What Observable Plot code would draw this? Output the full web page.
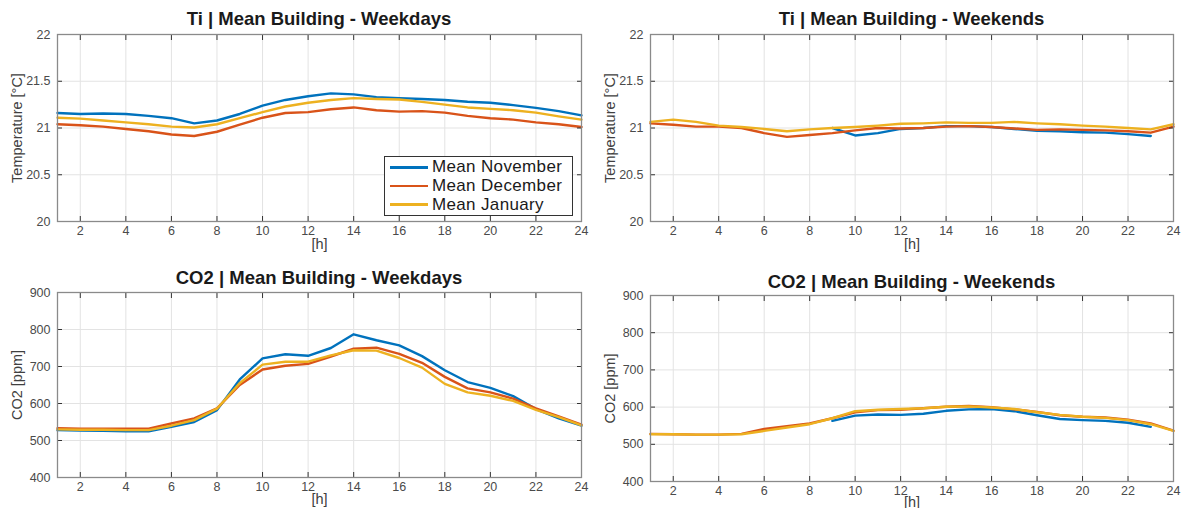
<!DOCTYPE html>
<html>
<head>
<meta charset="utf-8">
<script src="https://cdn.jsdelivr.net/npm/d3@7"></script>
<script src="https://cdn.jsdelivr.net/npm/@observablehq/plot@0.6"></script>
<style>
  html, body { margin: 0; padding: 0; background: #fff; }
  #root { position: relative; width: 1181px; height: 508px; overflow: hidden; background: #fff;
          font-family: "Liberation Sans", Arial, Helvetica, sans-serif; }
  .panel { position: absolute; }
  .title { position: absolute; font-weight: bold; font-size: 18.5px; color: #1a1a1a; white-space: nowrap;
           transform: translateX(-50%); line-height: 1; }
  .legend { position: absolute; border: 1px solid #333; background: #fff; box-sizing: border-box; padding: 1px 0 0 5px; }
  .legend .row { display: flex; align-items: center; height: 18.7px; white-space: nowrap; }
  .legend .row span { display: inline-block; font-size: 17px; line-height: 18px; height: 18px; color: #1a1a1a;
                      letter-spacing: 0.35px; }
  .legend .sw { width: 38px; height: 2.6px; margin-right: 4px; }
  g[aria-label="y-axis label"] text, g[aria-label="x-axis label"] text { font-size: 14.5px; fill: #404040; }
  g[aria-label="y-axis label"], g[aria-label="x-axis label"] { font-size: 14.5px; }
  g[aria-label="x-axis tick label"], g[aria-label="y-axis tick label"] { font-size: 12.5px; fill: #4a4a4a; }
</style>
</head>
<body>
<div id="root"></div>
<script>
// ---------- data ----------
const hours = [1,2,3,4,5,6,7,8,9,10,11,12,13,14,15,16,17,18,19,20,21,22,23,24];
const seriesNames = ["Mean November", "Mean December", "Mean January"];
const seriesColors = ["#0072BD", "#D95319", "#EDB120"];
const xTicks = [2,4,6,8,10,12,14,16,18,20,22,24];
const tiTicks = [20, 20.5, 21, 21.5, 22];
const co2Ticks = [400, 500, 600, 700, 800, 900];

// Ti | Weekdays
const tiWdNov = [21.16,21.15,21.155,21.15,21.13,21.105,21.05,21.08,21.15,21.24,21.30,21.34,21.37,21.36,21.33,21.32,21.31,21.30,21.28,21.27,21.245,21.215,21.18,21.135];
const tiWdDec = [21.04,21.03,21.015,20.99,20.965,20.93,20.915,20.96,21.035,21.11,21.16,21.17,21.20,21.22,21.19,21.175,21.18,21.165,21.13,21.105,21.09,21.06,21.04,21.01];
const tiWdJan = [21.11,21.10,21.08,21.06,21.04,21.015,21.005,21.04,21.105,21.17,21.23,21.27,21.30,21.32,21.31,21.305,21.28,21.25,21.22,21.205,21.19,21.165,21.125,21.09];

// Ti | Weekends
const tiWeNov = [null,null,null,null,null,null,null,null,21.0,20.92,20.945,20.99,21.0,21.02,21.02,21.01,20.99,20.97,20.965,20.955,20.95,20.935,20.915,null];
const tiWeDec = [21.05,21.035,21.015,21.015,21.0,20.945,20.905,20.925,20.945,20.975,21.0,20.995,21.0,21.015,21.02,21.01,20.995,20.98,20.985,20.98,20.975,20.965,20.95,21.015];
const tiWeJan = [21.065,21.09,21.065,21.025,21.01,20.99,20.965,20.985,21.0,21.01,21.025,21.045,21.05,21.06,21.055,21.055,21.065,21.05,21.04,21.025,21.015,21.0,20.985,21.04];

// CO2 | Weekdays
const co2WdNov = [528,527,526,525,525,537,550,582,665,722,733,729,750,787,771,757,728,690,658,642,620,585,560,540];
const co2WdDec = [533,532,532,532,532,546,560,587,650,692,702,707,727,748,751,734,710,672,641,630,613,587,565,543];
const co2WdJan = [530,529,529,528,528,540,555,586,655,705,713,713,730,744,743,723,697,653,630,621,607,583,563,541];

// CO2 | Weekends
const co2WeNov = [null,null,null,null,null,null,null,null,563,577,580,579,582,590,594,595,589,578,568,565,563,558,547,null];
const co2WeDec = [528,527,526,526,528,541,549,556,570,586,592,593,597,601,603,600,594,587,578,574,572,566,556,537];
const co2WeJan = [527,527,526,526,527,536,545,554,570,589,593,595,597,601,602,599,595,586,579,574,571,565,554,536];

// ---------- drawing ----------
const root = document.getElementById("root");
const FONT = "'Liberation Sans', Arial, Helvetica, sans-serif";

function rowsFor(arrays) {
  const out = [];
  arrays.forEach((arr, k) => hours.forEach((h, i) => out.push({h, v: arr[i], s: seriesNames[k]})));
  return out;
}

function panel(cfg) {
  const data = rowsFor(cfg.series);
  const lines = seriesNames.map((name, k) =>
    Plot.line(data.filter(d => d.s === name), {x: "h", y: "v", stroke: seriesColors[k], strokeWidth: 2.4, curve: "linear"})
  );
  const chart = Plot.plot({
    width: cfg.width, height: cfg.height,
    marginLeft: cfg.ml, marginRight: cfg.mr, marginTop: cfg.mt, marginBottom: cfg.mb,
    style: {fontFamily: FONT, fontSize: "12.5px", color: "#4a4a4a", background: "transparent", overflow: "visible"},
    x: {domain: [1, 24]},
    y: {domain: cfg.yDomain},
    marks: [
      Plot.gridX(xTicks, {stroke: "#e3e3e3", strokeOpacity: 1}),
      Plot.gridY(cfg.yTicks, {stroke: "#e3e3e3", strokeOpacity: 1}),
      ...lines,
      Plot.axisX(xTicks, {anchor: "bottom", tickSize: -5, tickPadding: 10, stroke: "#333", label: "[h]",
        labelAnchor: "center", labelOffset: cfg.xLabelOffset, labelArrow: "none", tickFormat: d => String(d)}),
      Plot.axisX(xTicks, {anchor: "top", tickSize: -5, stroke: "#333", label: null, tickFormat: () => ""}),
      Plot.axisY(cfg.yTicks, {anchor: "left", tickSize: -5, tickPadding: 12, stroke: "#333", label: cfg.yLabel,
        labelAnchor: "center", labelOffset: 46, labelArrow: "none", tickFormat: d => String(d)}),
      Plot.axisY(cfg.yTicks, {anchor: "right", tickSize: -5, stroke: "#333", label: null, tickFormat: () => ""}),
      Plot.frame({stroke: "#8a8a8a", strokeWidth: 1.3})
    ]
  });
  const wrap = document.createElement("div");
  wrap.className = "panel";
  wrap.style.left = cfg.left + "px";
  wrap.style.top = cfg.top + "px";
  wrap.appendChild(chart);
  root.appendChild(wrap);

  const t = document.createElement("div");
  t.className = "title";
  t.textContent = cfg.title;
  t.style.left = (cfg.left + cfg.ml + (cfg.width - cfg.ml - cfg.mr) / 2) + "px";
  t.style.top = cfg.titleTop + "px";
  root.appendChild(t);
}

panel({left: 0, top: 0, width: 600, height: 260, ml: 57, mr: 19, mt: 34, mb: 39,
  yDomain: [20, 22], yTicks: tiTicks, yLabel: "Temperature [°C]", xLabelOffset: 27,
  title: "Ti | Mean Building - Weekdays", titleTop: 10, series: [tiWdNov, tiWdDec, tiWdJan]});
panel({left: 590, top: 0, width: 591, height: 260, ml: 60, mr: 8, mt: 34, mb: 39,
  yDomain: [20, 22], yTicks: tiTicks, yLabel: "Temperature [°C]", xLabelOffset: 27,
  title: "Ti | Mean Building - Weekends", titleTop: 10, series: [tiWeNov, tiWeDec, tiWeJan]});
panel({left: 0, top: 255, width: 600, height: 253, ml: 57, mr: 19, mt: 37, mb: 31,
  yDomain: [400, 900], yTicks: co2Ticks, yLabel: "CO2 [ppm]", xLabelOffset: 26,
  title: "CO2 | Mean Building - Weekdays", titleTop: 269, series: [co2WdNov, co2WdDec, co2WdJan]});
panel({left: 590, top: 255, width: 591, height: 253, ml: 60, mr: 8, mt: 40, mb: 27,
  yDomain: [400, 900], yTicks: co2Ticks, yLabel: "CO2 [ppm]", xLabelOffset: 25,
  title: "CO2 | Mean Building - Weekends", titleTop: 273, series: [co2WeNov, co2WeDec, co2WeJan]});

// legend (top-left panel)
const lg = document.createElement("div");
lg.className = "legend";
lg.style.left = "384px"; lg.style.top = "156px"; lg.style.width = "189px"; lg.style.height = "60px";
seriesNames.forEach((name, k) => {
  const r = document.createElement("div");
  r.className = "row";
  const sw = document.createElement("div");
  sw.className = "sw";
  sw.style.background = seriesColors[k];
  const tx = document.createElement("span");
  tx.textContent = name;
  r.appendChild(sw); r.appendChild(tx);
  lg.appendChild(r);
});
root.appendChild(lg);
</script>
</body>
</html>
